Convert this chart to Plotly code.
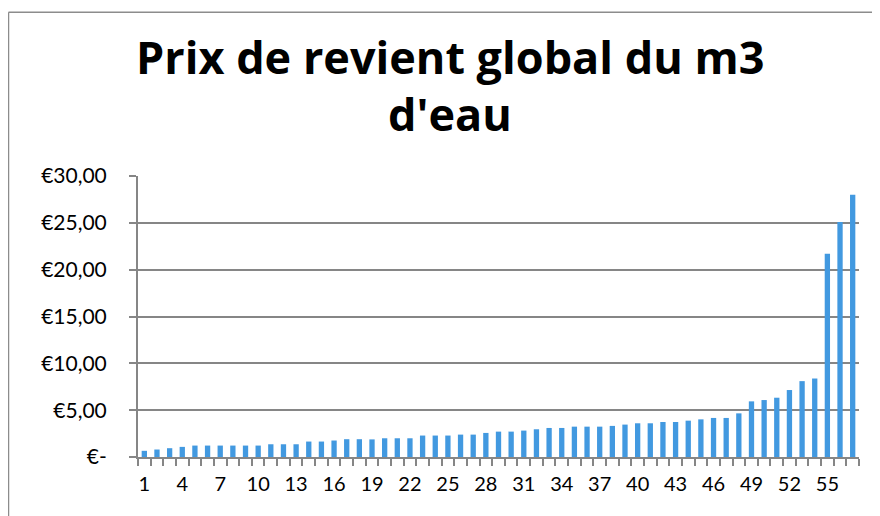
import plotly.graph_objects as go

categories = list(range(1, 58))
values = [0.66, 0.80, 0.94, 1.08, 1.22, 1.22, 1.22, 1.22, 1.22, 1.22,
          1.36, 1.36, 1.36, 1.65, 1.65, 1.76, 1.90, 1.90, 1.88, 2.00,
          2.00, 2.00, 2.29, 2.29, 2.29, 2.39, 2.39, 2.57, 2.71, 2.71,
          2.82, 2.96, 3.10, 3.10, 3.24, 3.24, 3.24, 3.32, 3.46, 3.60,
          3.60, 3.74, 3.74, 3.88, 4.02, 4.17, 4.17, 4.66, 5.94, 6.08,
          6.33, 7.15, 8.10, 8.38, 21.70, 25.10, 28.00]
x_tick_vals = list(range(1, 58, 3))
y_tick_vals = [0, 5, 10, 15, 20, 25, 30]
y_tick_text = ["€-", "€5,00", "€10,00", "€15,00", "€20,00", "€25,00", "€30,00"]
title_lines = ["Prix de revient global du m3", "d'eau"]

# page body offsets the figure by 8 px; size and margins compensate
OFF = 8
W, H = 880 - 2 * OFF, 516 - OFF
L, T = 138 - OFF, 176 - OFF
R = W - (859 - OFF)
B = H - (457.5 - OFF)
pw, ph = W - L - R, H - T - B

fig = go.Figure(go.Bar(x=categories, y=values, marker=dict(color="#4299E0", line=dict(width=0))))

def py(ypix):  # page pixel y -> paper y
    return (H - B + OFF - ypix) / ph

def px(xpix):
    return (xpix - OFF - L) / pw

annotations = []
for line, yc in zip(title_lines, [56, 113]):
    annotations.append(dict(text="<b>%s</b>" % line, xref="paper", yref="paper",
                            x=px(450), y=py(yc), xanchor="center", yanchor="middle",
                            showarrow=False,
                            font=dict(family="Open Sans", size=45, color="black")))

fig.update_layout(
    width=W, height=H,
    margin=dict(l=L, r=R, t=T, b=B, autoexpand=False),
    paper_bgcolor="white", plot_bgcolor="white",
    bargap=0.58,
    showlegend=False,
    font=dict(family="Lato", size=20, color="black"),
    annotations=annotations,
    shapes=[
        dict(type="line", xref="paper", yref="paper",
             x0=px(8.5), x1=px(900), y0=py(12), y1=py(12),
             line=dict(color="#8C8C8C", width=1.5), layer="below"),
        dict(type="line", xref="paper", yref="paper",
             x0=px(8.5), x1=px(8.5), y0=py(12), y1=py(540),
             line=dict(color="#8C8C8C", width=1.5), layer="below"),
    ],
)

fig.update_xaxes(
    range=[0.5, 57.5], tickmode="array", tickvals=x_tick_vals,
    ticks="", showgrid=False, showline=True, linecolor="#868686", linewidth=2,
    zeroline=False,
    minor=dict(tickvals=[i + 0.5 for i in range(0, 58)], ticks="outside", ticklen=7,
               tickcolor="#868686", tickwidth=2, showgrid=False),
    ticklabelstandoff=8,
)
fig.update_yaxes(
    range=[0, 30], tickmode="array", tickvals=y_tick_vals, ticktext=y_tick_text,
    ticks="outside", ticklen=7, tickcolor="#868686", tickwidth=2,
    showgrid=True, gridcolor="#868686", gridwidth=2,
    showline=True, linecolor="#868686", linewidth=2, zeroline=False,
    ticklabelstandoff=18, tickfont=dict(size=21),
)

fig.write_html("out.html")
